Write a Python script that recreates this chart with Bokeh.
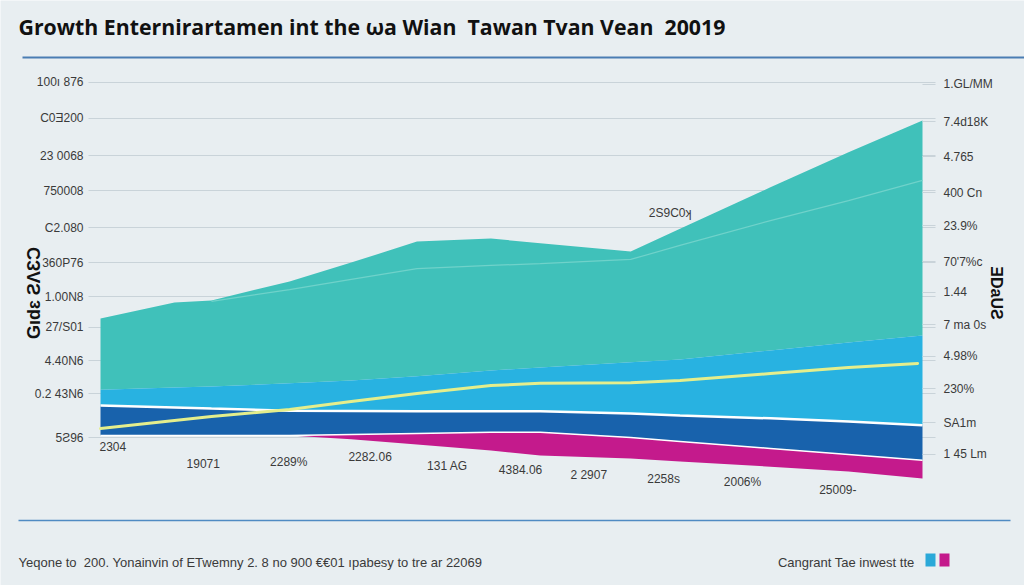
from bokeh.plotting import figure
from bokeh.models import Range1d, LinearAxis, FixedTicker, Grid
from bokeh.core.properties import value
from bokeh.embed import file_html
from bokeh.resources import INLINE

# ---------------- data ----------------
TITLE = "Growth Enternirartamen int the ωa Wian\u00a0 Tawan Tvan Vean\u00a0 20019"
LEFT_TITLE = "Gıdɛ ƧΛƐƆ"
RIGHT_TITLE = "ƎDaUƧ"
FOOTNOTE = "Yeqone to\u00a0 200. Yonainvin of ETwemny 2. 8 no 900 €€01 ıpabesy to tre ar 22069"
LEGEND_TEXT = "Cangrant Tae inwest tte"
LEGEND_COLORS = ["#2aa8d8", "#c41a8c"]
CALLOUT = "2S9C0ʞ"
CALLOUT_X = 6.93
CALLOUT_Y = 63.7

left_tick_pos = [100.9, 90.6, 80.0, 70.0, 59.4, 49.4, 39.7, 30.9, 21.4, 12.0, -0.6]
left_tick_labels = ["100ı 876", "C0Ǝ200", "23 0068", "750008", "C2.080", "360P76",
                    "1.00N8", "27/S01", "4.40N6", "0.2 43N6", "5Ƨ96"]

right_tick_pos = [100.3, 89.7, 79.7, 69.4, 60.0, 49.7, 40.9, 31.7, 22.6, 13.4, 3.7, -5.4]
right_tick_labels = ["1.GL/MM", "7.4d18K", "4.765", "400 Cn", "23.9%", "70'7%c",
                     "1.44", "7 ma 0s", "4.98%", "230%", "SA1m", "1 45 Lm"]

bottom_labels = ["2304", "19071", "2289%", "2282.06", "131 AG", "4384.06",
                 "2 2907", "2258s", "2006%", "25009-"]
bottom_x = [0.15, 1.25, 2.29, 3.28, 4.22, 5.11, 5.94, 6.85, 7.81, 8.97]
bottom_y = [-3.1, -8.0, -7.7, -6.0, -8.6, -9.7, -11.4, -12.3, -13.4, -15.4]

X = [0, 0.9, 1.35, 2.3, 3.05, 3.85, 4.75, 5.35, 6.45, 7.05, 8.15, 9.1, 10]
teal_top = [33.4, 38.0, 38.6, 44.0, 49.4, 55.4, 56.3, 54.9, 52.6, 59.1, 70.9, 80.9, 90.0]
teal_bottom = [13.1, 13.7, 14.0, 14.9, 15.7, 16.9, 18.6, 19.4, 20.9, 21.7, 24.3, 26.6, 28.6]
light_bottom = [8.6, 8.0, 7.7, 7.1, 7.0, 6.9, 6.9, 6.9, 6.3, 5.7, 4.9, 4.0, 2.9]
dark_bottom = [0, 0, 0, 0, 0.3, 0.6, 0.9, 0.9, -0.6, -1.7, -3.7, -5.4, -7.1]
magenta_bottom = [0, 0, 0, 0, -1.1, -2.6, -4.3, -5.7, -6.6, -7.4, -8.9, -10.3, -12.3]

inner_x = [1.35, 2.3, 3.05, 3.85, 4.75, 5.35, 6.45, 7.05, 8.15, 9.1, 10]
inner_line = [38.3, 41.7, 44.6, 47.7, 48.6, 49.1, 50.3, 54.3, 61.4, 67.1, 72.9]

yellow_x = [0, 0.9, 1.35, 2.3, 3.05, 3.85, 4.75, 5.35, 6.45, 7.05, 8.15, 9.1, 9.94]
yellow_line = [2.0, 4.3, 5.4, 7.4, 9.7, 12.0, 14.3, 14.9, 15.1, 15.7, 17.7, 19.4, 20.6]

# ---------------- layout / styling ----------------
W, H = 1024, 585
PX0, PXS = 100.0, 82.2      # page x of x=0 and pixels per x unit
PY0, PYS = 435.0, 3.5       # page y of y=0 and pixels per y unit


def ux(px):
    return (px - PX0) / PXS


def vy(py):
    return (PY0 - py) / PYS


BG = "#e8eef1"
TEAL = "#40c1ba"
LIGHT = "#28b2e1"
DARK = "#1862ac"
MAGENTA = "#c41a8c"
YELLOW = "#e4ee8c"
TXT = "#3a3a3a"
FONT = "Liberation Sans"

p = figure(width=W, height=H, output_backend="svg", toolbar_location=None,
           x_range=Range1d(ux(0), ux(W)), y_range=Range1d(vy(H), vy(0)),
           x_axis_location=None, y_axis_location=None, min_border=0)
p.extra_x_ranges = {"px": Range1d(0, W)}
p.extra_y_ranges = {"px": Range1d(H, 0)}
p.background_fill_color = BG
p.border_fill_color = BG
p.outline_line_color = None
p.grid.visible = False

# grid lines
g = Grid(dimension=1, ticker=FixedTicker(ticks=left_tick_pos),
         grid_line_color="#c9d3d9", grid_line_width=1)
if "cross_bounds" in Grid.properties():
    g.cross_bounds = (ux(88), ux(935))
p.add_layout(g)

# areas
p.varea(x=X, y1=teal_bottom, y2=teal_top, fill_color=TEAL)
p.varea(x=X, y1=light_bottom, y2=teal_bottom, fill_color=LIGHT)
p.varea(x=X, y1=dark_bottom, y2=light_bottom, fill_color=DARK)
p.varea(x=X, y1=magenta_bottom, y2=dark_bottom, fill_color=MAGENTA)

p.line(inner_x, inner_line, line_color="#6fd2ca", line_width=1.2)
p.line(X, light_bottom, line_color="white", line_width=2.5)
p.line(X, dark_bottom, line_color="white", line_width=1.5)
p.line(yellow_x, yellow_line, line_color=YELLOW, line_width=3, line_cap="round")

p.text(x=bottom_x, y=bottom_y, text=bottom_labels, text_font=value(FONT),
       text_font_size="12px", text_color=TXT, text_align="center", text_baseline="middle")
p.text(x=[CALLOUT_X], y=[CALLOUT_Y], text=[CALLOUT], text_font=value(FONT),
       text_font_size="12px", text_color=TXT, text_align="center", text_baseline="middle")

# left axis
la = LinearAxis(ticker=FixedTicker(ticks=left_tick_pos), fixed_location=ux(92))
la.major_label_overrides = {k: v for k, v in zip(left_tick_pos, left_tick_labels)}
la.axis_line_color = None
la.major_tick_line_color = None
la.minor_tick_line_color = None
la.major_label_standoff = 3
la.major_label_text_font = FONT
la.major_label_text_font_size = "12px"
la.major_label_text_color = TXT
la.axis_label = LEFT_TITLE
la.axis_label_text_font = FONT
la.axis_label_text_font_style = "bold"
la.axis_label_text_font_size = "18px"
la.axis_label_text_color = "#111111"
la.axis_label_standoff = -12
p.add_layout(la, "left")

# right axis
ra = LinearAxis(ticker=FixedTicker(ticks=right_tick_pos), fixed_location=ux(935))
ra.major_label_overrides = {k: v for k, v in zip(right_tick_pos, right_tick_labels)}
ra.axis_line_color = None
ra.major_tick_in = 13
ra.major_tick_out = 0
ra.major_tick_line_color = "#c9d3d9"
ra.minor_tick_line_color = None
ra.major_label_standoff = 8
ra.major_label_text_font = FONT
ra.major_label_text_font_size = "12px"
ra.major_label_text_color = TXT
ra.axis_label = RIGHT_TITLE
ra.axis_label_text_font = FONT
ra.axis_label_text_font_style = "bold"
ra.axis_label_text_font_size = "16px"
ra.axis_label_text_color = "#111111"
ra.axis_label_standoff = -8
p.add_layout(ra, "right")

# title, rules, footnote, legend (page-pixel ranges)
kw = dict(x_range_name="px", y_range_name="px")
p.text(x=[18], y=[26], text=[TITLE], text_font=value("Open Sans"), text_font_style="bold",
       text_font_size="21.3px", text_color="#111111", text_baseline="middle", **kw)
p.line(x=[22, W], y=[57, 57], line_color="#4a7db3", line_width=2, **kw)
p.line(x=[18, 1010], y=[520, 520], line_color="#4f8bc3", line_width=1.5, **kw)
p.text(x=[18], y=[562], text=[FOOTNOTE], text_font=value(FONT),
       text_font_size="13px", text_color="#3a3a3a", text_baseline="middle", **kw)
p.text(x=[914], y=[562], text=[LEGEND_TEXT], text_font=value(FONT),
       text_font_size="13px", text_color="#3a3a3a", text_baseline="middle",
       text_align="right", **kw)
p.quad(left=[925, 939], right=[935, 949], top=[553, 553], bottom=[566, 566],
       fill_color=LEGEND_COLORS, line_color=None, **kw)

open("out.html", "w").write(file_html(p, INLINE))
